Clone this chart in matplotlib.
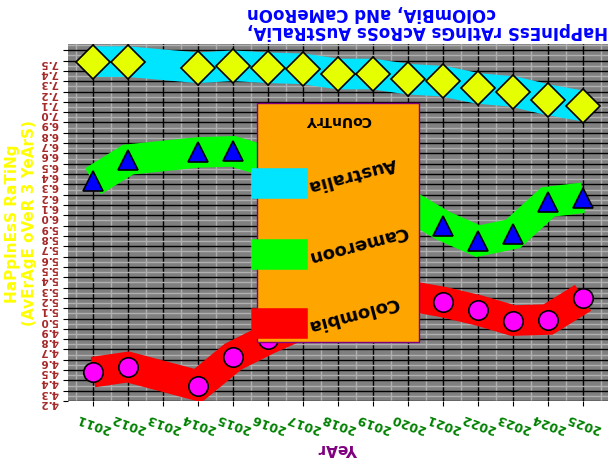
import numpy as np
import matplotlib
matplotlib.use('Agg')
import matplotlib.pyplot as plt
from matplotlib.lines import Line2D
from matplotlib.ticker import MultipleLocator

years = [2011, 2012, 2014, 2015, 2016, 2017, 2018, 2019, 2020, 2021, 2022, 2023, 2024, 2025]
australia = [7.39, 7.39, 7.33, 7.35, 7.33, 7.32, 7.27, 7.27, 7.22, 7.20, 7.13, 7.10, 7.02, 6.96]
cameroon = [6.23, 6.44, 6.51, 6.52, 6.42, 6.32, 6.22, 6.12, 6.00, 5.80, 5.65, 5.72, 6.03, 6.07]
colombia = [4.38, 4.43, 4.25, 4.53, 4.70, 4.85, 5.00, 5.10, 5.12, 5.06, 4.98, 4.88, 4.89, 5.10]

series = [
    ('Australia', australia, '#00E5FF', 'D', '#E5FF00', 17),
    ('Cameroon', cameroon, '#00FF00', '^', '#0000FF', 15),
    ('Colombia', colombia, '#FF0000', 'o', '#FF00FF', 14),
]

fig = plt.figure(figsize=(6.14, 4.6), dpi=100)
ax = fig.add_axes([0.111, 0.126, 0.879, 0.776])
ax.set_facecolor('#808080')

for name, vals, lc, mk, mc, ms in series:
    ax.plot(years, vals, color=lc, linewidth=22, solid_joinstyle='miter',
            solid_capstyle='butt', zorder=2)
    ax.plot(years, vals, linestyle='none', marker=mk, markersize=ms,
            markerfacecolor=mc, markeredgecolor='black', markeredgewidth=1.2, zorder=3)

ax.set_xlim(2010.29, 2025.71)
ax.set_ylim(4.1, 7.56)
ax.set_xticks(range(2011, 2026))
ax.yaxis.set_major_locator(MultipleLocator(0.1))
ax.yaxis.set_minor_locator(MultipleLocator(0.05))
ax.xaxis.set_minor_locator(MultipleLocator(0.5))
ax.grid(which='major', color='black', linewidth=1, zorder=0)
ax.grid(which='minor', color='#B0B0B0', linewidth=1, zorder=0)
ax.set_axisbelow(True)
for s in ax.spines.values():
    s.set_visible(False)
ax.tick_params(which='minor', length=0)

ax.set_yticklabels([f'{v:.1f}' for v in np.arange(4.1, 7.51, 0.1)],
                   rotation=180, color='#A52A2A', fontweight='bold', fontsize=7.5)
for lab in ax.get_xticklabels():
    lab.set_rotation(160)
    lab.set_color('green')
    lab.set_fontweight('bold')
    lab.set_fontsize(9)
    lab.set_ha('center')
    lab.set_va('center')
ax.tick_params(axis='x', pad=12)

ax.set_ylabel('HaPpInEsS RaTiNg\n(AvErAgE oVeR 3 YeArS)', color='yellow',
              fontweight='bold', fontsize=11, labelpad=2)
ax.set_xlabel('YeAr', color='purple', fontweight='bold', fontsize=11,
              rotation=180, labelpad=4)
fig.text(0.99, 0.952, 'HaPpInEsS rAtInGs AcRoSs AuStRaLiA,\ncOlOmBiA, aNd CaMeRoOn',
         rotation=180, ha='right', va='center', color='blue', fontweight='bold',
         fontsize=12, multialignment='right', linespacing=1.0)

handles = [Line2D([0], [0], color=c, linewidth=22) for _, _, c, _, _, _ in series]
leg = ax.legend(handles, [s[0] for s in series], title='CoUnTrY', loc='center',
                bbox_to_anchor=(0.50, 0.50), facecolor='orange', edgecolor='purple',
                framealpha=1, handlelength=1.4, labelspacing=1.5, fancybox=False,
                borderpad=0.5, prop={'weight': 'bold', 'size': 13})
leg.get_title().set_rotation(180)
leg.get_title().set_fontweight('bold')
leg.get_title().set_fontsize(10)
for t in leg.get_texts():
    t.set_rotation(195)
leg.set_zorder(5)

fig.savefig('out.png', dpi=100)
